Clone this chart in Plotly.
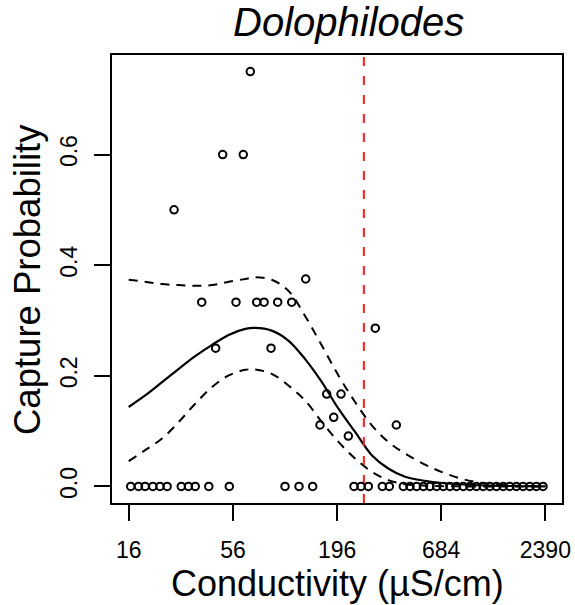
import plotly.graph_objects as go

# ---- data ----
ticks_x = [16, 56, 196, 684, 2390]
ticks_y = [0.0, 0.2, 0.4, 0.6]
tick_y_text = ["0.0", "0.2", "0.4", "0.6"]

# observed capture probabilities > 0
obs_x = [69.0, 49.5, 63.4, 27.6, 134.3, 38.5, 58.1, 74.5, 81.4, 95.9, 113.5,
         45.5, 88.5, 309.9, 172.8, 205.2, 188.0, 159.4, 224.1, 398.9]
obs_y = [0.75, 0.60, 0.60, 0.50, 0.375, 0.333, 0.333, 0.333, 0.333, 0.333, 0.333,
         0.25, 0.25, 0.286, 0.167, 0.167, 0.125, 0.111, 0.091, 0.111]

# sites with zero captures
zero_x = [16.4, 18.0, 19.5, 21.4, 23.3, 25.4, 30.1, 32.8, 35.6, 41.9, 53.6,
          104.7, 123.9, 146.0, 239.9, 260.9, 284.9, 337.1, 366.7,
          434, 470, 509, 552, 597, 647, 701, 759, 822, 891, 965, 1045,
          1132, 1227, 1328, 1439, 1558, 1688, 1828, 1981, 2144, 2324]
zero_y = [0.0] * len(zero_x)

# fitted curve and confidence band
curve_x = [16, 19.5, 23.9, 29.2, 35.6, 43.6, 53.2, 65, 73, 89.2, 109, 133,
           163, 199, 243, 297, 362, 443, 622, 929, 1386, 2390]
fit_y = [0.1436, 0.1645, 0.1886, 0.2126, 0.2355, 0.2559, 0.2739, 0.2847, 0.2865,
         0.2817, 0.2637, 0.2306, 0.1886, 0.1405, 0.0985, 0.0564, 0.0324, 0.0175,
         0.008, 0.003, 0.001, 0.0002]
upper_y = [0.3736, 0.3700, 0.3658, 0.3640, 0.3628, 0.3640, 0.3700, 0.3750, 0.3780,
           0.3736, 0.3537, 0.3087, 0.2546, 0.2005, 0.1526, 0.1105, 0.0805, 0.0595,
           0.0324, 0.0114, 0.003, 0.0005]
lower_y = [0.0456, 0.0655, 0.0865, 0.1165, 0.1495, 0.1796, 0.2006, 0.2108, 0.2114,
           0.2036, 0.1826, 0.1556, 0.1165, 0.0805, 0.0505, 0.0264, 0.0114, 0.004,
           0.001, 0.0, 0.0, 0.0]

threshold = 270
y_range = [-0.03, 0.78]

FONT = "Liberation Sans, Arial, Helvetica, sans-serif"

fig = go.Figure()

fig.add_trace(go.Scatter(x=curve_x, y=upper_y, mode="lines",
                         line=dict(color="black", width=2, dash="9px,7px", shape="spline"),
                         hoverinfo="skip"))
fig.add_trace(go.Scatter(x=curve_x, y=lower_y, mode="lines",
                         line=dict(color="black", width=2, dash="9px,7px", shape="spline"),
                         hoverinfo="skip"))
fig.add_trace(go.Scatter(x=curve_x, y=fit_y, mode="lines",
                         line=dict(color="black", width=2.2, shape="spline"),
                         hoverinfo="skip"))
fig.add_trace(go.Scatter(x=[threshold, threshold], y=y_range, mode="lines",
                         line=dict(color="#ff1a1a", width=2, dash="9px,10px"),
                         hoverinfo="skip"))
fig.add_trace(go.Scatter(x=zero_x + obs_x, y=zero_y + obs_y, mode="markers",
                         marker=dict(symbol="circle-open", size=7.5, color="black",
                                     line=dict(color="black", width=2))))

axis_common = dict(showline=True, mirror=True, linecolor="black", linewidth=2,
                   ticks="outside", ticklen=16, tickwidth=2, tickcolor="black",
                   showgrid=False, zeroline=False, automargin=False,
                   tickfont=dict(family=FONT, size=23, color="black"))

fig.update_xaxes(type="log", range=[1.1171, 3.4654], tickvals=ticks_x,
                 ticktext=[str(t) for t in ticks_x], ticklabelstandoff=9,
                 **axis_common)
fig.update_yaxes(range=y_range, tickvals=ticks_y, ticktext=tick_y_text,
                 tickangle=-90, ticklabelstandoff=8, **axis_common)

fig.update_layout(
    width=575, height=605, autosize=False,
    margin=dict(l=112, r=13, t=55, b=102, autoexpand=False),
    paper_bgcolor="white", plot_bgcolor="white",
    showlegend=False,
    annotations=[
        dict(text="<i>Dolophilodes</i>", x=0.525, y=1.0737, xref="paper", yref="paper",
             xanchor="center", yanchor="middle", showarrow=False,
             font=dict(family=FONT, size=40, color="black")),
        dict(text="Conductivity (µS/cm)", x=0.5, y=-0.1786, xref="paper", yref="paper",
             xanchor="center", yanchor="middle", showarrow=False,
             font=dict(family=FONT, size=36, color="black")),
        dict(text="Capture Probability", x=-0.1889, y=0.5, xref="paper", yref="paper",
             xanchor="center", yanchor="middle", textangle=-90, showarrow=False,
             font=dict(family=FONT, size=36.5, color="black")),
    ],
)

fig.write_html("out.html",
               config={"displayModeBar": False, "responsive": False},
               post_script="document.body.style.margin='0';document.body.style.padding='0';"
                           "document.body.style.overflow='hidden';")
